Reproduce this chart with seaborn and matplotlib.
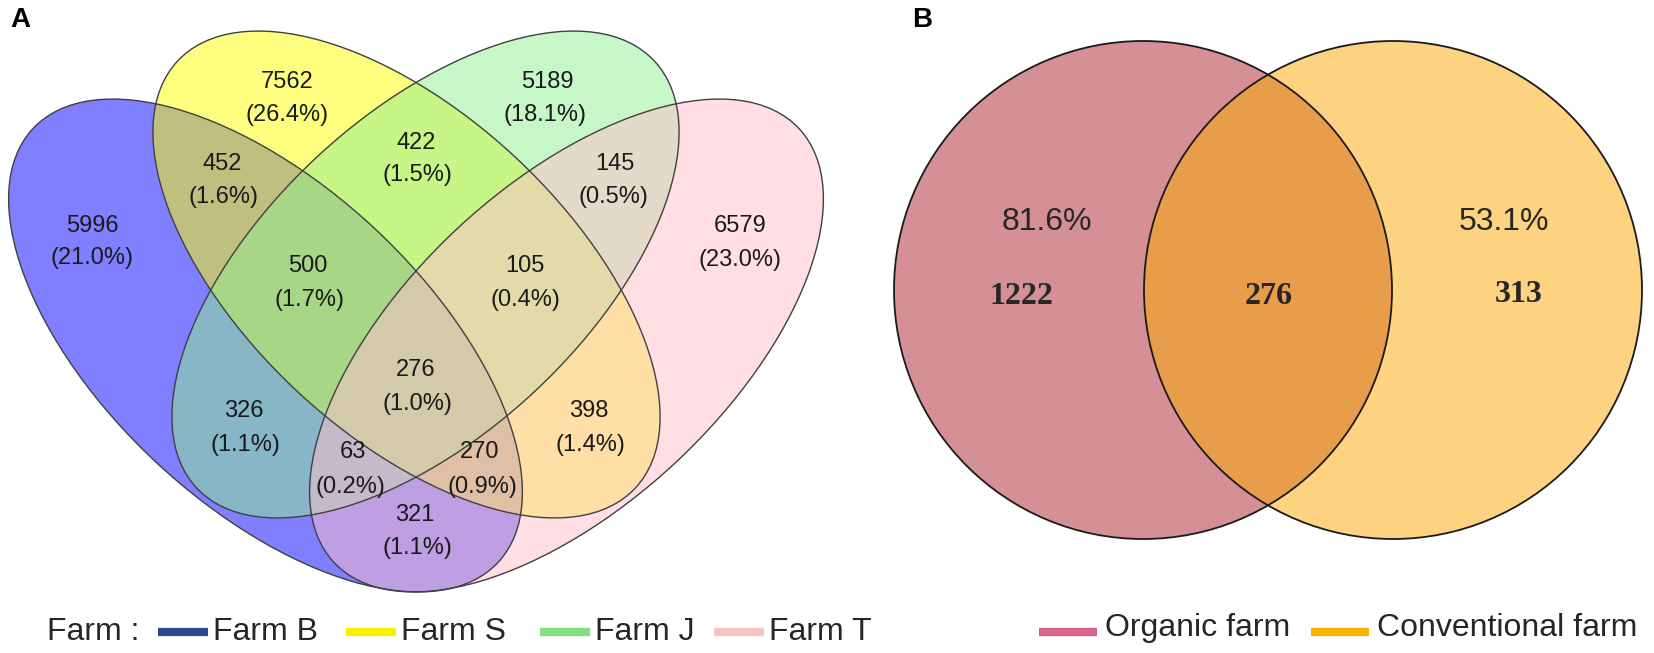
import numpy as np
import seaborn as sns
import matplotlib
matplotlib.use("Agg")
import matplotlib.pyplot as plt
from matplotlib.patches import Ellipse, Circle

# Panel A data: 4-set Venn (Farm B, S, J, T)
farms = ['Farm B', 'Farm S', 'Farm J', 'Farm T']
regions = ['B', 'S', 'J', 'T', 'BS', 'SJ', 'JT', 'BSJ', 'SJT', 'BSJT',
           'BJ', 'ST', 'BJT', 'BST', 'BT']
counts = [5996, 7562, 5189, 6579, 452, 422, 145, 500, 105, 276,
          326, 398, 63, 270, 321]
percents = [21.0, 26.4, 18.1, 23.0, 1.6, 1.5, 0.5, 1.7, 0.4, 1.0,
            1.1, 1.4, 0.2, 0.9, 1.1]

# Panel B data: 2-set Venn
groups = ['Organic farm', 'Conventional farm']
only_counts = [1222, 313]
shared_count = 276
group_pcts = [81.6, 53.1]

sns.set_theme(style='white')
plt.rcParams['font.family'] = ['Liberation Sans', 'DejaVu Sans']

fig = plt.figure(figsize=(16.54, 6.53), dpi=100)
ax = fig.add_axes([0, 0, 1, 1])
ax.set_xlim(0, 1654)
ax.set_ylim(653, 0)
ax.axis('off')

# ---- Panel A ----
fill_cols = ['#0000ff', '#ffff00', '#90ee90', '#ffc0cb']
leg_cols_a = ['#2c4a8c', '#f5f000', '#80e080', '#f7c4c4']
# centre x, centre y, semi-major, semi-minor, angle
ell_geom = [
    (265.5, 345.5, 318, 160, 43),
    (406.5, 274.5, 313, 160, 43),
    (425.5, 274.5, 313, 160, 137),
    (566.5, 345.5, 318, 160, 137),
]

for (cx, cy, ea, eb, ang), col in zip(ell_geom, fill_cols):
    ax.add_patch(Ellipse((cx, cy), 2 * ea, 2 * eb, angle=ang,
                         facecolor=col, alpha=0.5, edgecolor='none'))
for cx, cy, ea, eb, ang in ell_geom:
    ax.add_patch(Ellipse((cx, cy), 2 * ea, 2 * eb, angle=ang,
                         facecolor='none', edgecolor='#404040', lw=1.0))

# label positions: (count x, count y, pct x, pct y)
label_pos = {
    'B': (92, 226, 92, 258), 'S': (287, 82, 287, 115),
    'J': (547, 82, 545, 115), 'T': (740, 226, 740, 260),
    'BS': (222, 164, 223, 197), 'SJ': (416, 143, 417, 175),
    'JT': (615, 164, 613, 197), 'BSJ': (308, 266, 309, 300),
    'SJT': (525, 266, 525, 300), 'BSJT': (416, 370, 417, 404),
    'BJ': (244, 411, 245, 445), 'ST': (589, 411, 590, 445),
    'BJT': (353, 452, 350, 487), 'BST': (480, 452, 482, 487),
    'BT': (415, 515, 417, 548),
}
for reg, n, p in zip(regions, counts, percents):
    x1, y1, x2, y2 = label_pos[reg]
    ax.text(x1, y1, str(n), ha='center', va='center', fontsize=17, color='#1a1a1a')
    ax.text(x2, y2, f'({p:.1f}%)', ha='center', va='center', fontsize=17, color='#1a1a1a')

ax.text(10, 20, 'A', ha='left', va='center', fontsize=20, fontweight='bold', color='black')

# legend A
leg_y = 632
ax.text(47, leg_y, 'Farm :', ha='left', va='center', fontsize=23)
leg_x_a = [158, 346, 540, 714]
for x0, lab, col in zip(leg_x_a, farms, leg_cols_a):
    ax.plot([x0, x0 + 50], [leg_y, leg_y], color=col, lw=6, solid_capstyle='butt')
    ax.text(x0 + 55, leg_y, lab, ha='left', va='center', fontsize=23)

# ---- Panel B ----
circ_cols = ['#d49094', '#fdd280']
overlap_col = '#e89d4a'
leg_cols_b = ['#d8668a', '#f5b400']
c_left = (1143, 290)
c_right = (1393, 290)
rad = 249

left = Circle(c_left, rad, facecolor=circ_cols[0], edgecolor='none')
right = Circle(c_right, rad, facecolor=circ_cols[1], edgecolor='none')
ax.add_patch(left)
ax.add_patch(right)
mid = Circle(c_right, rad, facecolor=overlap_col, edgecolor='none')
ax.add_patch(mid)
mid.set_clip_path(Circle(c_left, rad, transform=ax.transData))
for c in (c_left, c_right):
    ax.add_patch(Circle(c, rad, facecolor='none', edgecolor='#1a1a1a', lw=1.3))

ax.text(1047, 222, f'{group_pcts[0]}%', ha='center', va='center', fontsize=23)
ax.text(1504, 222, f'{group_pcts[1]}%', ha='center', va='center', fontsize=23)
serif = ['Liberation Serif', 'DejaVu Serif']
ax.text(1021, 297, str(only_counts[0]), ha='center', va='center', fontsize=23,
        fontweight='bold', family=serif)
ax.text(1269, 297, str(shared_count), ha='center', va='center', fontsize=23,
        fontweight='bold', family=serif)
ax.text(1519, 294, str(only_counts[1]), ha='center', va='center', fontsize=23,
        fontweight='bold', family=serif)

ax.text(912, 20, 'B', ha='left', va='center', fontsize=20, fontweight='bold', color='black')

leg_x_b = [1039, 1311]
for x0, lab, col in zip(leg_x_b, groups, leg_cols_b):
    ax.plot([x0, x0 + 58], [leg_y, leg_y], color=col, lw=6, solid_capstyle='butt')
    ax.text(x0 + 66, leg_y - 4, lab, ha='left', va='center', fontsize=23)

fig.savefig('out.png', dpi=100)
